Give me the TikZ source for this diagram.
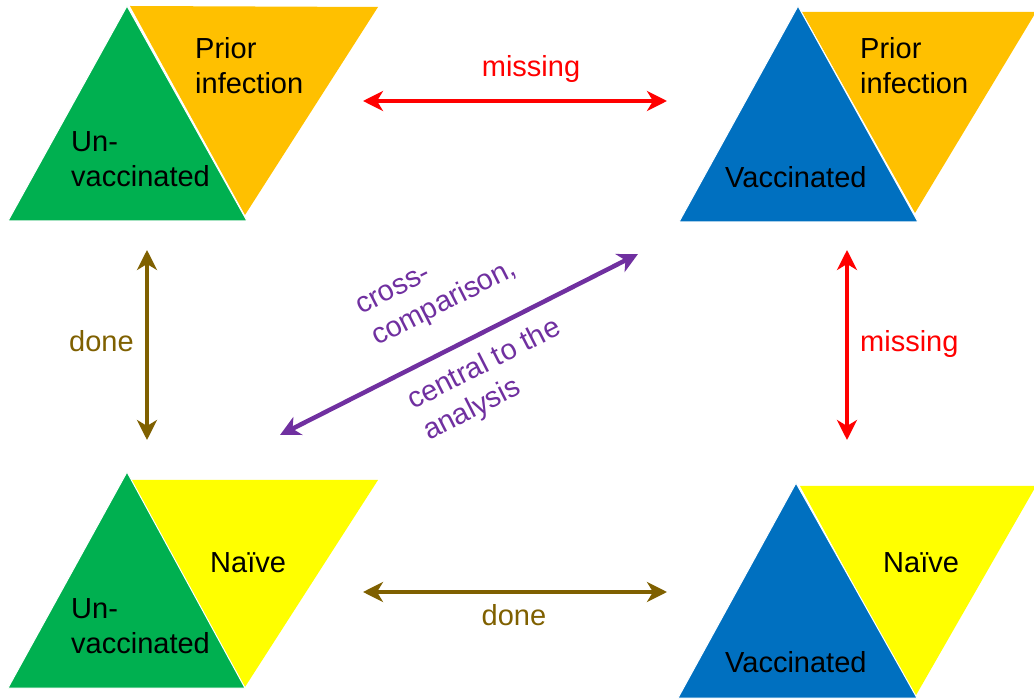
\documentclass[tikz,border=0pt]{standalone}
\usepackage{fontspec}
\setmainfont{Liberation Sans}
\usetikzlibrary{arrows.meta}
\definecolor{cgreen}{HTML}{00B050}
\definecolor{corange}{HTML}{FFC000}
\definecolor{cblue}{HTML}{0070C0}
\definecolor{cyellow}{HTML}{FFFF00}
\definecolor{cred}{HTML}{FF0000}
\definecolor{cbrown}{HTML}{7F6000}
\definecolor{cpurple}{HTML}{7030A0}
\begin{document}
\begin{tikzpicture}[x=1pt,y=-1pt,
  lbl/.style={font=\fontsize{29}{35}\selectfont, inner sep=0pt, align=left, anchor=base west},
  tri/.style={draw=white, line width=1pt},
  link/.style={line width=4.5pt, {Stealth[length=20pt,width=20pt,inset=6pt]}-{Stealth[length=20pt,width=20pt,inset=6pt]}}]
\useasboundingbox (0,0) rectangle (1034,700);
% top-left
\path[fill=corange] (130,6) -- (378,7) -- (245,215) -- cycle;
\path[tri, fill=cgreen] (127,6) -- (8,221) -- (247,221) -- cycle;
% top-right
\path[fill=corange] (802,12) -- (1036,12) -- (915,213) -- cycle;
\path[tri, fill=cblue] (798,6) -- (679,222) -- (918,222) -- cycle;
% bottom-left
\path[fill=cyellow] (130,480) -- (378,480) -- (245,687) -- cycle;
\path[tri, fill=cgreen] (127,472) -- (8,688) -- (245,688) -- cycle;
% bottom-right
\path[fill=cyellow] (800,486) -- (1036,486) -- (915,697) -- cycle;
\path[tri, fill=cblue] (796,483) -- (678,698) -- (917,698) -- cycle;
% labels in shapes (anchor = baseline of last line)
\node[lbl] (tlinf) at (195,94) {Prior\\infection};
\node[lbl] (tlunv) at (71,187) {Un-\\vaccinated};
\node[lbl] (trinf) at (860,94) {Prior\\infection};
\node[lbl] (trvac) at (725,188) {Vaccinated};
\node[lbl] (blnai) at (210,572) {Naïve};
\node[lbl] (blunv) at (71,653) {Un-\\vaccinated};
\node[lbl] (brnai) at (883,572) {Naïve};
\node[lbl] (brvac) at (725,672) {Vaccinated};
% connector end points
\coordinate (a1) at (363,101); \coordinate (a2) at (667,101);
\coordinate (b1) at (147,250); \coordinate (b2) at (147,440);
\coordinate (c1) at (847,250); \coordinate (c2) at (847,440);
\coordinate (d1) at (363,592); \coordinate (d2) at (667,592);
\coordinate (e1) at (280,435); \coordinate (e2) at (638,254);
\draw[link, cred] (a1) -- (a2);
\draw[link, cbrown] (b1) -- (b2);
\draw[link, cred] (c1) -- (c2);
\draw[link, cbrown] (d1) -- (d2);
\draw[link, cpurple] (e1) -- (e2);
% connector labels
\node[lbl, anchor=base, text=cred] (lmiss1) at (531,77) {missing};
\node[lbl, text=cbrown] (ldone1) at (69,352) {done};
\node[lbl, text=cred] (lmiss2) at (860,352) {missing};
\node[lbl, anchor=base, text=cbrown] (ldone2) at (514,625) {done};
\node[lbl, text=cpurple, rotate=27] (lcross) at (377,346) {cross-\\comparison,};
\node[lbl, text=cpurple, rotate=27] (lcentral) at (429,441) {central to the\\analysis};
\end{tikzpicture}
\end{document}
